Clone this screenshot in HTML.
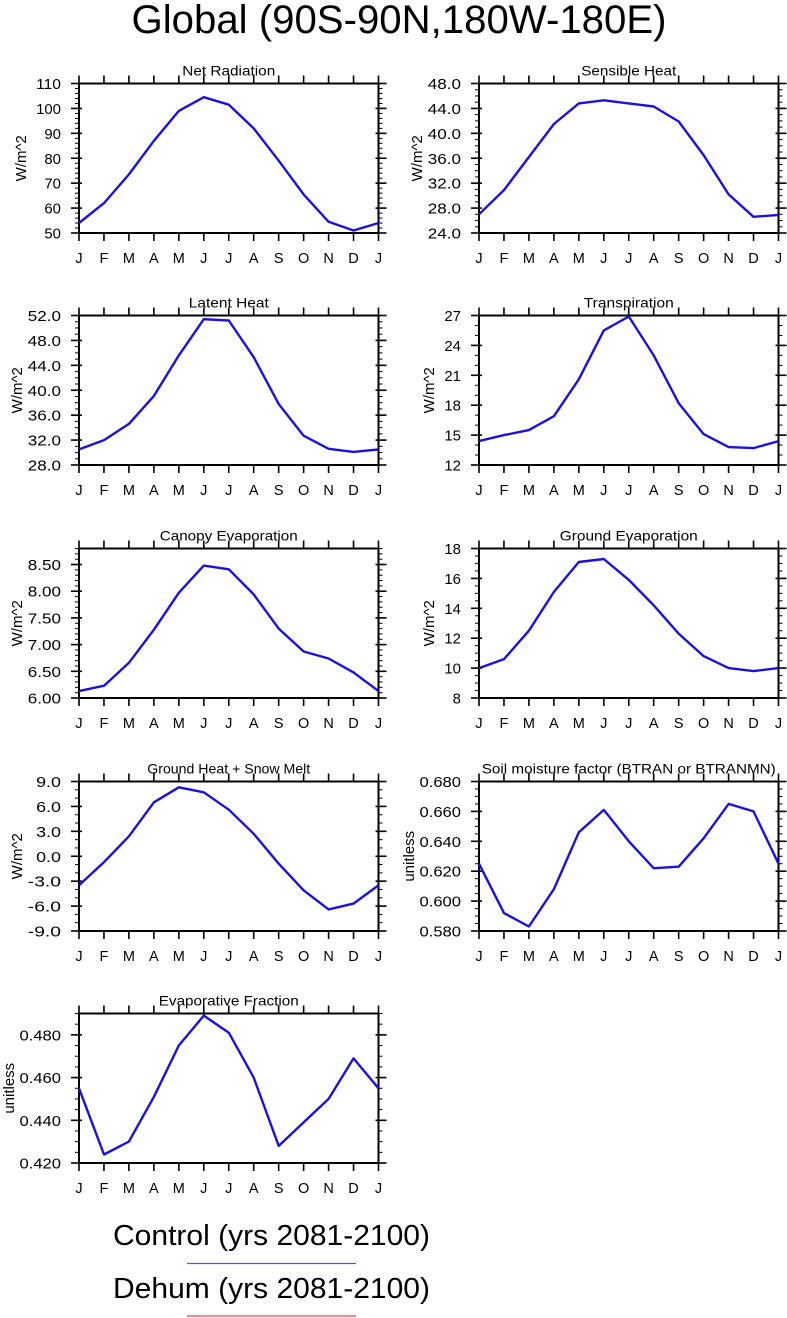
<!DOCTYPE html>
<html><head><meta charset="utf-8">
<style>
html,body{margin:0;padding:0;background:#fff;}
svg{display:block;font-family:"Liberation Sans",sans-serif;}
</style></head>
<body>
<svg id="fig" width="787" height="1318" viewBox="0 0 787 1318" xmlns="http://www.w3.org/2000/svg">
<text x="399" y="33" font-size="40" text-anchor="middle" textLength="535" lengthAdjust="spacingAndGlyphs">Global (90S-90N,180W-180E)</text>
<g id="panels"></g>
<g>
<text x="113" y="1245" font-size="29" textLength="317" lengthAdjust="spacingAndGlyphs">Control (yrs 2081-2100)</text>
<line x1="187" y1="1263.5" x2="356" y2="1263.5" stroke="#4a55ee" stroke-width="1.3"/>
<text x="113" y="1298" font-size="29" textLength="317" lengthAdjust="spacingAndGlyphs">Dehum (yrs 2081-2100)</text>
<line x1="187" y1="1316" x2="356" y2="1316" stroke="#ee4040" stroke-width="1.3"/>
</g>
</svg>
<script>
const months = ["J","F","M","A","M","J","J","A","S","O","N","D","J"];
const netRadiation = [54,62,73.5,87,99,104.5,101.5,92,79,65.5,54.5,51,54];
const sensibleHeat = [27,30.9,36.2,41.5,44.8,45.3,44.8,44.3,41.9,36.5,30.2,26.6,26.9];
const latentHeat = [30.5,32,34.6,39.1,45.6,51.4,51.2,45.3,37.8,32.7,30.6,30.1,30.5];
const transpiration = [14.4,15,15.5,16.9,20.6,25.5,26.9,23,18.2,15.1,13.8,13.7,14.4];
const canopyEvap = [6.13,6.23,6.66,7.28,7.97,8.48,8.41,7.94,7.30,6.87,6.74,6.48,6.13];
const groundEvap = [10,10.6,12.5,15.1,17.1,17.3,15.9,14.2,12.3,10.8,10,9.8,10];
const groundHeat = [-3.5,-0.7,2.4,6.5,8.3,7.7,5.6,2.7,-0.9,-4.1,-6.4,-5.7,-3.5];
const soilMoisture = [0.625,0.592,0.583,0.608,0.646,0.661,0.640,0.622,0.623,0.642,0.665,0.660,0.625];
const evapFraction = [0.455,0.424,0.430,0.451,0.475,0.489,0.481,0.460,0.428,0.439,0.450,0.469,0.455];

const panels = [
 {name:"net-radiation",title:"Net Radiation",tw:93,unit:"W/m^2",data:netRadiation,min:50,max:110,major:10,minor:5,dec:0,col:0,row:0,tx:20},
 {name:"sensible-heat",title:"Sensible Heat",tw:95,unit:"W/m^2",data:sensibleHeat,min:24,max:48,major:4,minor:4,dec:1,col:1,row:0,tx:416},
 {name:"latent-heat",title:"Latent Heat",tw:80,unit:"W/m^2",data:latentHeat,min:28,max:52,major:4,minor:4,dec:1,col:0,row:1,tx:16},
 {name:"transpiration",title:"Transpiration",tw:90,unit:"W/m^2",data:transpiration,min:12,max:27,major:3,minor:3,dec:0,col:1,row:1,tx:428},
 {name:"canopy-evaporation",title:"Canopy Evaporation",tw:138,unit:"W/m^2",data:canopyEvap,min:6,max:8.8,major:0.5,minor:5,dec:2,col:0,row:2,tx:16},
 {name:"ground-evaporation",title:"Ground Evaporation",tw:138,unit:"W/m^2",data:groundEvap,min:8,max:18,major:2,minor:4,dec:0,col:1,row:2,tx:428},
 {name:"ground-heat-snow-melt",title:"Ground Heat + Snow Melt",tw:163,unit:"W/m^2",data:groundHeat,min:-9,max:9,major:3,minor:3,dec:1,col:0,row:3,tx:16},
 {name:"soil-moisture-factor",title:"Soil moisture factor (BTRAN or BTRANMN)",tw:294,unit:"unitless",data:soilMoisture,min:0.58,max:0.68,major:0.02,minor:4,dec:3,col:1,row:3,tx:408},
 {name:"evaporative-fraction",title:"Evaporative Fraction",tw:140,unit:"unitless",data:evapFraction,min:0.42,max:0.49,major:0.02,minor:4,dec:3,col:0,row:4,tx:8}
];
const NS="http://www.w3.org/2000/svg";
const root=document.getElementById("panels");
function mk(tag,attrs,parent){const e=document.createElementNS(NS,tag);for(const k in attrs)e.setAttribute(k,attrs[k]);parent.appendChild(e);return e;}
const colX=[79,479], rowY=[83.5,315.5,548.5,781.5,1013.5], W=299.5, H=149.5;
panels.forEach(p=>{
 const L=colX[p.col], T=rowY[p.row], R=L+W, B=T+H;
 const g=mk("g",{},root);
 
 
 const xs=i=>L+i*W/12;
 const ys=v=>B-(v-p.min)/(p.max-p.min)*H;
 for(let i=0;i<=12;i++){
  const x=xs(i);
  mk("line",{x1:x,y1:T-8,x2:x,y2:T,stroke:"#000","stroke-width":1.6},g);
  mk("line",{x1:x,y1:B,x2:x,y2:B+8,stroke:"#000","stroke-width":1.6},g);
  const t=mk("text",{x:x,y:B+30,"font-size":14.5,"text-anchor":"middle"},g);
  t.textContent=months[i];
  
  
 }
 const step=p.major/p.minor;
 const n=Math.round((p.max-p.min)/step);
 for(let k=0;k<=n+1;k++){
  const v=p.min+k*step; if(v>p.max+1e-9)break;
  const y=ys(v); const isMaj=k%p.minor===0;
  const len=isMaj?8:4;
  mk("line",{x1:L-len,y1:y,x2:L+(isMaj?3:0),y2:y,stroke:"#000","stroke-width":isMaj?1.6:1},g);
  mk("line",{x1:R-(isMaj?3:0),y1:y,x2:R+len,y2:y,stroke:"#000","stroke-width":isMaj?1.6:1},g);
  if(isMaj){
   const s=v.toFixed(p.dec);
   const t=mk("text",{x:L-18,y:y+5.5,"font-size":14.5,"text-anchor":"end",textLength:s.length*8.3,lengthAdjust:"spacingAndGlyphs"},g);
   t.textContent=s;
   
   
  }
 }
 mk("rect",{x:L,y:T,width:W,height:H,fill:"none",stroke:"#000","stroke-width":2},g);
 const tt=mk("text",{x:L+W/2,y:T-8,"font-size":14,"text-anchor":"middle",textLength:p.tw,lengthAdjust:"spacingAndGlyphs"},g);
 tt.textContent=p.title;
 
 
 const yt=mk("text",{x:0,y:0,"font-size":15,"text-anchor":"middle",transform:`translate(${p.tx+6},${T+H/2}) rotate(-90)`},g);
 yt.textContent=p.unit;
 
 
 const pts=p.data.map((v,i)=>xs(i).toFixed(1)+","+ys(v).toFixed(1)).join(" ");
 const ln=mk("polyline",{points:pts,fill:"none",stroke:"#1c10e0","stroke-width":2.4,"stroke-linejoin":"round"},g);
 
 
});
</script>
</body></html>
